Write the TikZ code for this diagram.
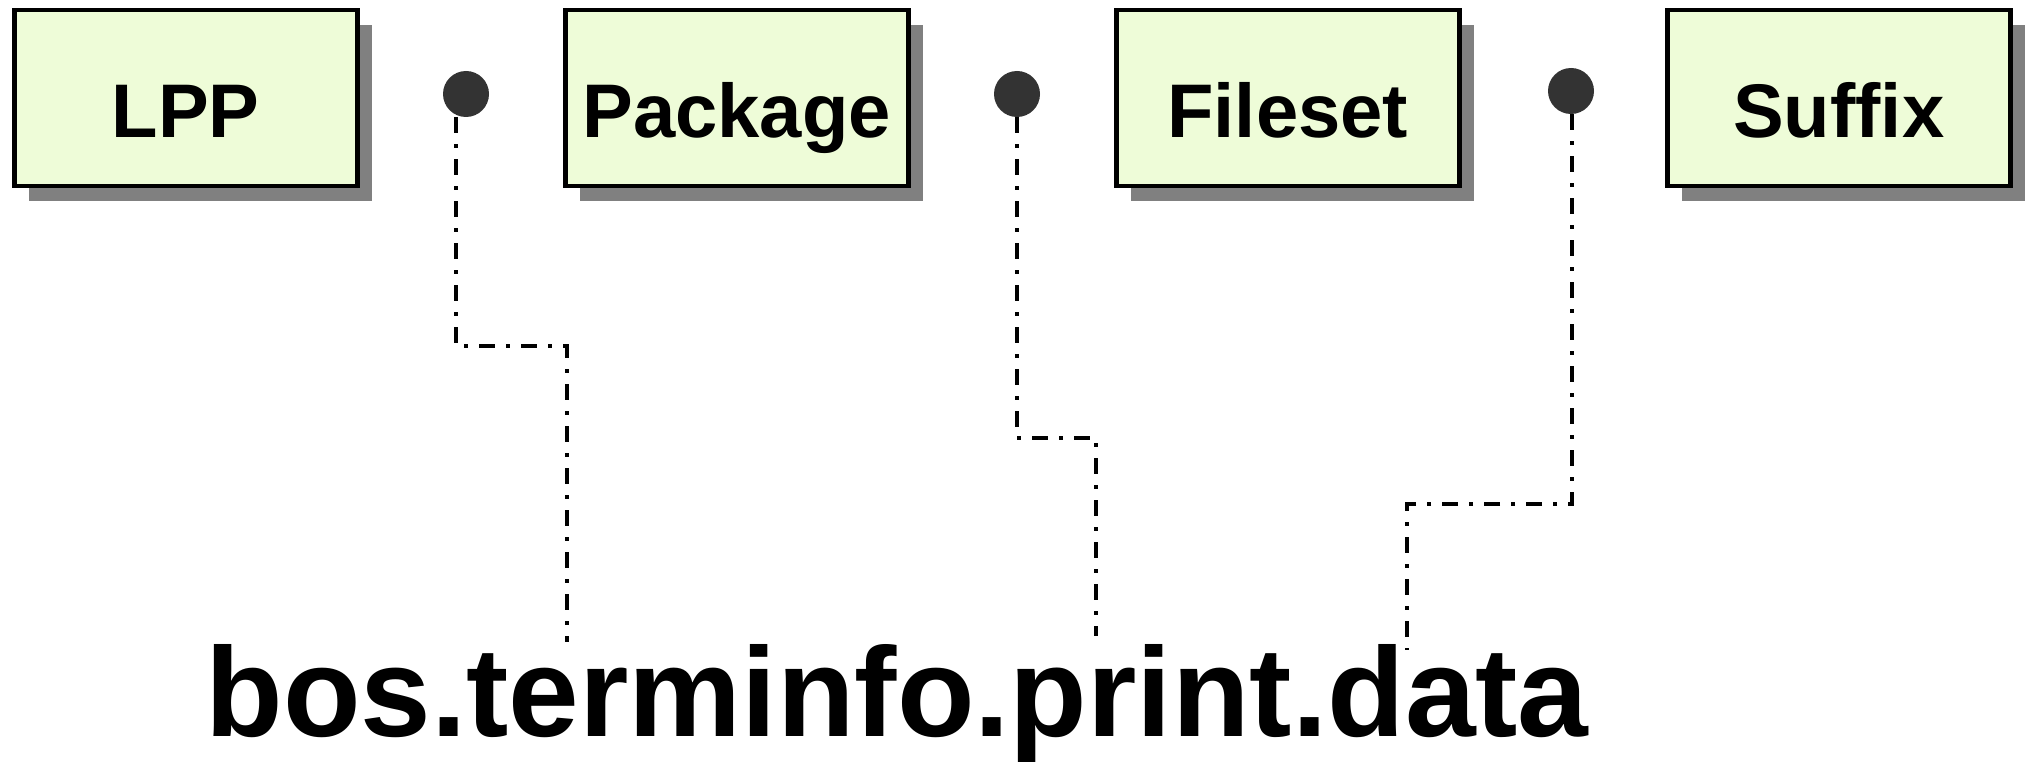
\documentclass[tikz,border=0pt]{standalone}
\usepackage{fontspec}
\setmainfont{Liberation Sans}
\usetikzlibrary{shadows}
\definecolor{boxfill}{HTML}{EEFCD8}
\definecolor{dotfill}{HTML}{333333}
\definecolor{shadowgray}{HTML}{808080}
\begin{document}
\begin{tikzpicture}[x=1pt,y=-1pt,
  box/.style={draw=black,line width=4.5pt,fill=boxfill,rectangle,
    minimum width=343pt,minimum height=176pt,inner sep=0pt,anchor=north west,
    text height=79pt,text depth=0pt,
    font=\fontsize{76}{80}\selectfont\bfseries,
    drop shadow={shadow xshift=15pt,shadow yshift=-15pt,fill=shadowgray,opacity=1}},
  dot/.style={circle,fill=dotfill,draw=none,minimum size=46pt,inner sep=0pt},
  conn/.style={draw=black,line width=3.5pt,dash pattern=on 16pt off 11pt on 4pt off 11pt},
  bigtext/.style={anchor=base,font=\fontsize{127}{130}\selectfont\bfseries,inner sep=0pt}
]
\useasboundingbox[fill=white] (0,0) rectangle (2026,762);

\node[box] (lpp) at (12,8) {LPP};
\node[box] (pkg) at (563,8) {Package};
\node[box] (fs) at (1114,8) {Fileset};
\node[box] (sfx) at (1665,8) {Suffix};

\node[dot] (d1) at (466,94) {};
\node[dot] (d2) at (1017,94) {};
\node[dot] (d3) at (1571,91) {};

\coordinate (e1) at (567,642);
\coordinate (e2) at (1096,636);
\coordinate (e3) at (1407,650);

\draw[conn] ([xshift=-10pt]d1.south) -- ++(0,229) -| (e1);
\draw[conn] (d2.south) -- ++(0,321) -| (e2);
\draw[conn] ([xshift=1pt]d3.south) -- ++(0,390) -| (e3);

\node[bigtext] (fn) at (897,736) {bos.terminfo.print.data};
\end{tikzpicture}
\end{document}
